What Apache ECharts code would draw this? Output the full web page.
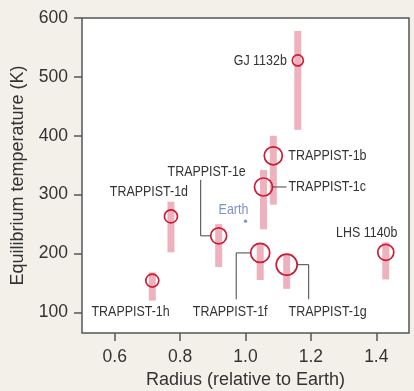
<!DOCTYPE html>
<html><head><meta charset="utf-8">
<script src="https://cdn.jsdelivr.net/npm/echarts@6/dist/echarts.min.js"></script>
<style>html,body{margin:0;padding:0;background:#f2f0e8;}#c{width:414px;height:391px;}</style>
</head><body><div id="c"></div>
<script>
// ---- data ----
const planets = ['TRAPPIST-1h','TRAPPIST-1d','TRAPPIST-1e','TRAPPIST-1f','TRAPPIST-1g','TRAPPIST-1c','TRAPPIST-1b','GJ 1132b','LHS 1140b'];
const radius   = [0.715, 0.772, 0.918, 1.045, 1.126, 1.055, 1.085, 1.160, 1.429];
const temp     = [154, 263, 230, 201, 181, 313, 366, 528, 202];
const tempLow  = [120, 202, 177, 155, 140, 241, 283, 410, 156];
const tempHigh = [168, 288, 250, 218, 199, 342, 400, 578, 219];
const markerSize = [13, 13, 16, 19, 21, 18, 18, 11, 16];
const earthRadius = 1.0;
const earthTemp = 255;
const xTicks = [0.6, 0.8, 1.0, 1.2, 1.4];
const yTicks = [100, 200, 300, 400, 500, 600];

// ---- label layout (pixel offsets from the point) ----
const labelLayout = {
  'TRAPPIST-1h': {dx:-21.7, dy:31.4, align:'center'},
  'TRAPPIST-1d': {dx:-22, dy:-24.3, align:'center'},
  'TRAPPIST-1e': {dx:-12, dy:-64, align:'center', leader:[[-18,-56],[-18,0],[-8,0]]},
  'TRAPPIST-1f': {dx:-30, dy:59, align:'center', leader:[[-9.5,0],[-24,0],[-24,46.3]]},
  'TRAPPIST-1g': {dx:41, dy:47, align:'center', leader:[[10.5,0],[22,0],[22,34.5]]},
  'TRAPPIST-1c': {dx:25, dy:0, align:'left', leader:[[9,0],[23,0]]},
  'TRAPPIST-1b': {dx:15, dy:0, align:'left'},
  'GJ 1132b':    {dx:-11, dy:0, align:'right'},
  'LHS 1140b':   {dx:-19, dy:-19.6, align:'center'},
  'Earth':       {dx:-12, dy:-11.5, align:'center'}
};

const FONT = "'Liberation Sans', Arial, sans-serif";
const LABEL_FONT = "15px " + FONT;
const LABEL_SX = 0.83;
const chart = echarts.init(document.getElementById('c'), null, {renderer:'canvas'});

const pts = planets.map((p,i)=>[radius[i], temp[i], i]);
const ranges = planets.map((p,i)=>[radius[i], tempLow[i], tempHigh[i]]);

function labelText(name, c, color) {
  const L = labelLayout[name];
  return {
    type:'text', x:c[0]+L.dx, y:c[1]+L.dy, scaleX:LABEL_SX, scaleY:1,
    style:{text:name, x:0, y:0, align:L.align, verticalAlign:'middle', font:LABEL_FONT, fill:color}
  };
}

chart.setOption({
  backgroundColor:'#f2f0e8',
  animation:false,
  grid:{left:82, right:5, top:18, bottom:58, outerBoundsMode:'none', containLabel:false,
        show:true, backgroundColor:'#ffffff', borderColor:'#555', borderWidth:1.5},
  xAxis:{
    type:'value', min:0.5, max:1.5,
    name:'Radius (relative to Earth)', nameLocation:'middle', nameGap:38,
    nameTextStyle:{fontFamily:FONT, fontSize:18, color:'#333'},
    axisLine:{show:false},
    splitLine:{show:false},
    axisTick:{show:true, length:8, lineStyle:{color:'#555', width:1.5}, customValues:xTicks},
    axisLabel:{fontFamily:FONT, fontSize:17.5, color:'#333', margin:15, customValues:xTicks, formatter:v=>v.toFixed(1)}
  },
  yAxis:{
    type:'value', min:65, max:600,
    name:'Equilibrium temperature (K)', nameLocation:'middle', nameGap:55,
    nameTextStyle:{fontFamily:FONT, fontSize:18, color:'#333'},
    axisLine:{show:false},
    splitLine:{show:false},
    axisTick:{show:true, length:8, lineStyle:{color:'#555', width:1.5}, customValues:yTicks},
    axisLabel:{fontFamily:FONT, fontSize:17.5, color:'#333', margin:14, customValues:yTicks}
  },
  series:[
    {
      type:'custom', silent:true, z:1,
      data:ranges,
      renderItem:(params, api)=>{
        const top = api.coord([api.value(0), api.value(2)]);
        const bot = api.coord([api.value(0), api.value(1)]);
        const w = 7;
        return {type:'rect', shape:{x:top[0]-w/2, y:top[1], width:w, height:bot[1]-top[1]},
                style:{fill:'#eeb2be'}};
      }
    },
    {
      type:'scatter', z:3, silent:true,
      data:pts,
      symbol:'circle',
      symbolSize:(v, p)=>markerSize[p.dataIndex],
      itemStyle:{color:'rgba(0,0,0,0)', borderColor:'#cd1c35', borderWidth:1.7, opacity:1}
    },
    {
      type:'custom', silent:true, z:3,
      data:[[earthRadius, earthTemp]],
      renderItem:(params, api)=>{
        const c = api.coord([api.value(0), api.value(1)]);
        return {type:'group', children:[
          {type:'circle', shape:{cx:c[0], cy:c[1], r:1.7}, style:{fill:'#7d92c9'}},
          labelText('Earth', c, '#7d92c9')
        ]};
      }
    },
    {
      type:'custom', silent:true, z:4,
      data:pts,
      renderItem:(params, api)=>{
        const i = api.value(2);
        const name = planets[i];
        const L = labelLayout[name];
        const c = api.coord([api.value(0), api.value(1)]);
        const children = [labelText(name, c, '#333')];
        if (L.leader) {
          children.push({type:'polyline',
            shape:{points:L.leader.map(p=>[c[0]+p[0], c[1]+p[1]])},
            style:{stroke:'#444', lineWidth:1, fill:null}});
        }
        return {type:'group', children};
      }
    }
  ]
});
</script></body></html>
